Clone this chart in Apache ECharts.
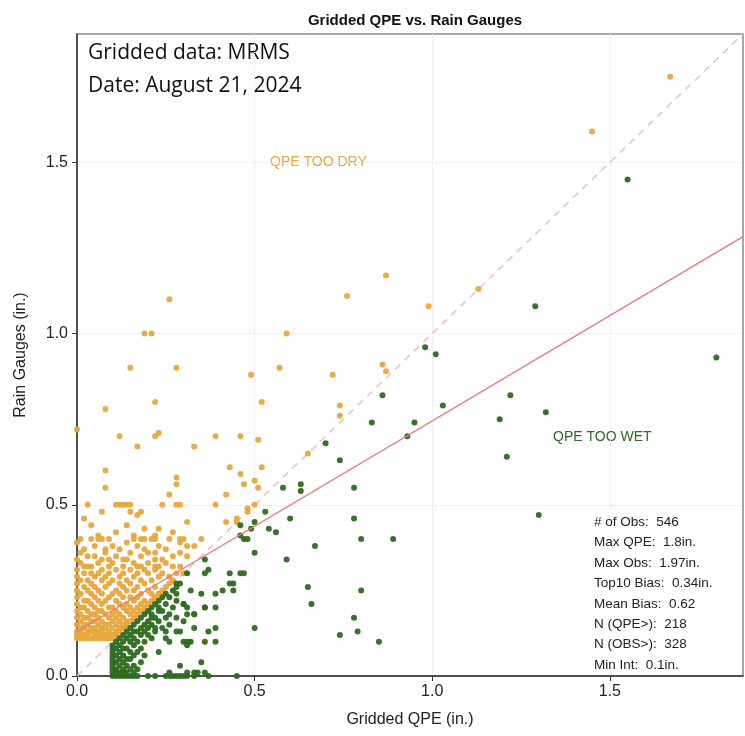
<!DOCTYPE html>
<html><head><meta charset="utf-8">
<script src="https://cdn.jsdelivr.net/npm/echarts@6/dist/echarts.min.js"></script>
<style>html,body{margin:0;padding:0;background:#fff}#c{width:745px;height:736px}</style>
</head><body><div id="c"></div>
<script>
// ---- data ----
const axisMax = 1.875;
const tickLabels = ['0.0','0.5','1.0','1.5'];
const fitCoef = [0.13, 0.615]; // intercept, slope of red fit line
// QPE TOO DRY (orange): rows of [gauge value, [QPE values...]]
const dryRows = [
 [0.11,[0.00,0.01,0.02,0.03,0.04,0.05,0.06,0.07,0.08,0.09,0.10]],
 [0.12,[0.00,0.01,0.02,0.03,0.05,0.06,0.07,0.08,0.09,0.10,0.11]],
 [0.13,[0.00,0.01,0.03,0.04,0.05,0.06,0.07,0.09,0.11,0.12]],
 [0.14,[0.01,0.02,0.04,0.05,0.07,0.08,0.10,0.12,0.13]],
 [0.15,[0.00,0.02,0.03,0.06,0.08,0.09,0.11,0.13,0.14]],
 [0.16,[0.01,0.04,0.05,0.07,0.10,0.12,0.14,0.15]],
 [0.17,[0.00,0.02,0.03,0.06,0.09,0.11,0.13,0.16]],
 [0.18,[0.01,0.04,0.05,0.08,0.10,0.12,0.15,0.17]],
 [0.19,[0.00,0.03,0.06,0.07,0.11,0.14,0.16,0.18]],
 [0.20,[0.01,0.02,0.05,0.09,0.10,0.13,0.15,0.17,0.19]],
 [0.21,[0.00,0.04,0.07,0.12,0.14,0.18,0.20]],
 [0.22,[0.02,0.03,0.06,0.08,0.11,0.16,0.19,0.21]],
 [0.23,[0.00,0.05,0.09,0.13,0.15,0.17,0.22]],
 [0.24,[0.01,0.04,0.07,0.10,0.12,0.18,0.21,0.23]],
 [0.25,[0.00,0.03,0.06,0.11,0.14,0.16,0.20,0.24]],
 [0.26,[0.02,0.05,0.08,0.13,0.17,0.22,0.25]],
 [0.27,[0.00,0.04,0.09,0.12,0.15,0.19,0.26]],
 [0.28,[0.01,0.03,0.07,0.10,0.14,0.18,0.21,0.27]],
 [0.29,[0.00,0.05,0.08,0.12,0.16,0.23,0.26]],
 [0.30,[0.02,0.04,0.06,0.09,0.13,0.17,0.20,0.24,0.28,0.30]],
 [0.31,[0.00,0.07,0.11,0.15,0.19,0.22]],
 [0.32,[0.02,0.03,0.04,0.09,0.13,0.17,0.18,0.22,0.23,0.27,0.29]],
 [0.33,[0.01,0.06,0.10,0.16,0.20,0.25]],
 [0.34,[0.00,0.07,0.09,0.13,0.14,0.22,0.24]],
 [0.35,[0.03,0.05,0.11,0.18,0.27,0.31]],
 [0.36,[0.01,0.08,0.15,0.20,0.22,0.29]],
 [0.37,[0.02,0.08,0.12,0.19,0.25]],
 [0.38,[0.05,0.10,0.17,0.23,0.31,0.33]],
 [0.39,[0.00,0.14,0.29]],
 [0.40,[0.01,0.04,0.06,0.07,0.09,0.16,0.18,0.19,0.21,0.22,0.26,0.29,0.30,0.35]],
 [0.41,[0.06,0.16,0.22]],
 [0.42,[0.11,0.27]],
 [0.43,[0.19,0.23]],
 [0.44,[0.04,0.14]],
 [0.45,[0.31,0.42,0.45]],
 [0.46,[0.02,0.45]],
 [0.47,[0.17]],
 [0.48,[0.07,0.15,0.18,0.48]],
 [0.49,[0.48]],
 [0.50,[0.03,0.11,0.12,0.13,0.14,0.15,0.24,0.28,0.29,0.39,0.50]]
];
const dryScatter = [
 [1.67,1.75],[1.45,1.59],[1.13,1.13],[0.87,1.17],[0.76,1.11],[0.99,1.08],[0.26,1.10],
 [0.59,1.00],[0.19,1.00],[0.21,1.00],[0.15,0.90],[0.28,0.90],[0.57,0.90],[0.49,0.88],
 [0.72,0.88],[0.86,0.91],[0.87,0.89],[0.08,0.78],[0.22,0.80],[0.52,0.80],[0.74,0.79],
 [0.74,0.76],[0.00,0.72],[0.12,0.70],[0.22,0.70],[0.23,0.71],[0.39,0.70],[0.46,0.70],
 [0.51,0.69],[0.17,0.67],[0.33,0.67],[0.65,0.65],[0.08,0.60],[0.43,0.61],[0.52,0.61],
 [0.28,0.58],[0.28,0.56],[0.46,0.59],[0.47,0.56],[0.50,0.57],[0.51,0.55],[0.08,0.55],
 [0.26,0.53],[0.42,0.53]
];
// QPE TOO WET (green): rows of [gauge value, [QPE values...]]
const wetRows = [
 [0.00,[0.10,0.11,0.12,0.13,0.14,0.15,0.16,0.17,0.20,0.22,0.25,0.26,0.27,0.28,0.33]],
 [0.01,[0.10,0.11,0.12,0.13,0.14,0.16,0.26,0.31,0.34]],
 [0.02,[0.10,0.11,0.13,0.15,0.17]],
 [0.03,[0.10,0.12,0.14,0.16]],
 [0.04,[0.10,0.11,0.13,0.18]],
 [0.05,[0.10,0.12,0.14,0.15]],
 [0.06,[0.10,0.11,0.13,0.16,0.19]],
 [0.07,[0.10,0.12,0.15,0.17,0.23]],
 [0.08,[0.10,0.11,0.13,0.14,0.18]],
 [0.09,[0.10,0.12,0.16]],
 [0.10,[0.11,0.13,0.15,0.17,0.19,0.26,0.31,0.36]],
 [0.11,[0.12,0.14,0.16,0.21,0.25]],
 [0.12,[0.13,0.15,0.18,0.20]],
 [0.13,[0.14,0.16,0.17,0.19,0.22,0.25,0.28]],
 [0.14,[0.15,0.18,0.20,0.22,0.24,0.39]],
 [0.15,[0.16,0.19,0.21,0.26]],
 [0.16,[0.17,0.20,0.23]],
 [0.17,[0.18,0.21,0.22,0.25,0.28]],
 [0.18,[0.19,0.21,0.26,0.33]],
 [0.19,[0.20,0.23,0.24]],
 [0.20,[0.21,0.23,0.27,0.36]],
 [0.21,[0.22,0.25,0.30]],
 [0.22,[0.23,0.28]],
 [0.23,[0.24,0.26]],
 [0.24,[0.25,0.28]],
 [0.25,[0.27]],
 [0.26,[0.28]],
 [0.27,[0.28]]
];
const wetScatter = [
 [1.80,0.93],[1.55,1.45],[1.29,1.08],[0.98,0.96],[1.01,0.94],[1.03,0.79],[1.22,0.82],
 [1.19,0.75],[1.32,0.77],[1.21,0.64],[1.30,0.47],[0.86,0.82],[0.83,0.74],[0.95,0.74],
 [0.93,0.70],[0.70,0.68],[0.74,0.63],[0.58,0.55],[0.63,0.56],[0.63,0.54],[0.78,0.55],
 [0.53,0.48],[0.60,0.46],[0.78,0.46],[0.50,0.45],[0.54,0.43],[0.56,0.42],[0.49,0.43],
 [0.46,0.41],[0.47,0.40],[0.48,0.40],[0.80,0.40],[0.89,0.40],[0.67,0.38],[0.50,0.36],
 [0.59,0.34],[0.46,0.30],[0.47,0.30],[0.65,0.26],[0.80,0.25],[0.66,0.21],[0.78,0.17],
 [0.50,0.14],[0.74,0.12],[0.79,0.13],[0.85,0.10],[0.46,0.44],[0.36,0.34],[0.37,0.31],
 [0.36,0.30],[0.31,0.30],[0.43,0.30],[0.43,0.27],[0.44,0.27],[0.41,0.25],[0.44,0.25],
 [0.39,0.24],[0.32,0.25],[0.35,0.24],[0.29,0.27],[0.30,0.21],[0.31,0.20],[0.36,0.20],
 [0.39,0.20],[0.31,0.18],[0.33,0.18],[0.30,0.16],[0.33,0.14],[0.29,0.13],[0.37,0.13],
 [0.30,0.10],[0.31,0.09],[0.32,0.10],[0.39,0.10],[0.29,0.03],[0.35,0.04],[0.33,0.01],
 [0.36,0.01],[0.37,0.00],[0.29,0.00],[0.30,0.00],[0.31,0.00],[0.45,0.00]
];
const statLines = ['# of Obs:  546','Max QPE:  1.8in.','Max Obs:  1.97in.','Top10 Bias:  0.34in.',
 'Mean Bias:  0.62','N (QPE>):  218','N (OBS>):  328','Min Int:  0.1in.'];
const infoLines = ['Gridded data: MRMS','Date: August 21, 2024'];

// ---- build ----
function fromRows(rows){const out=[];rows.forEach(r=>r[1].forEach(x=>out.push([x,r[0]])));return out;}
const dryData = fromRows(dryRows).concat(dryScatter);
const wetData = fromRows(wetRows).concat(wetScatter);
const ORANGE = '#e7a73d', GREEN = '#2e6b20';
const FONT = 'Liberation Sans, Arial, sans-serif';

const chart = echarts.init(document.getElementById('c'), null, {renderer:'canvas'});
const axisCommon = {
  type:'value', min:0, max:axisMax, interval:0.5,
  axisLine:{show:true, onZero:false, lineStyle:{color:'#333', width:1.5}},
  axisTick:{show:true, inside:false, length:5, lineStyle:{color:'#333'}},
  splitLine:{show:true, showMinLine:false, showMaxLine:false, lineStyle:{color:'#e4e4e4', type:'dotted', width:1}},
  axisLabel:{fontFamily:FONT, fontSize:16, color:'#222', showMaxLabel:false,
    formatter:v=>{const i=Math.round(v/0.5);return Math.abs(v-i*0.5)<1e-6 && tickLabels[i]?tickLabels[i]:'';}},
  nameLocation:'middle', nameTextStyle:{fontFamily:FONT, fontSize:16, color:'#222'}
};
chart.setOption({
  animation:false,
  title:{text:'Gridded QPE vs. Rain Gauges', left:410, top:8, textAlign:'center',
    textStyle:{fontFamily:FONT, fontSize:15, fontWeight:'bold', color:'#111'}},
  grid:{left:77, right:2, top:34, bottom:60, show:true, borderColor:'#8a8a8a', borderWidth:1.5, backgroundColor:'#fff'},
  xAxis:Object.assign({}, axisCommon, {name:'Gridded QPE (in.)', nameGap:36,
    axisLabel:Object.assign({}, axisCommon.axisLabel, {margin:8})}),
  yAxis:Object.assign({}, axisCommon, {name:'Rain Gauges (in.)', nameGap:48,
    axisLabel:Object.assign({}, axisCommon.axisLabel, {margin:9})}),
  series:[
    {type:'line', data:[[0,0],[axisMax,axisMax]], symbol:'none', silent:true, z:1,
      lineStyle:{color:'#f3b9c7', width:1.5, type:[7,6]}},
    {type:'scatter', data:dryData, symbolSize:6, itemStyle:{color:ORANGE, opacity:0.95}, z:2},
    {type:'scatter', data:wetData, symbolSize:6, itemStyle:{color:GREEN, opacity:0.95}, z:3},
    {type:'line', data:[[0,fitCoef[0]],[axisMax,fitCoef[0]+fitCoef[1]*axisMax]], symbol:'none', silent:true, z:4,
      lineStyle:{color:'#e8787a', width:1.3}}
  ],
  graphic:[
    {type:'text', left:88, top:37, style:{text:infoLines.join('\n'), fontFamily:'Open Sans, sans-serif', fontSize:21, lineHeight:33, fill:'#111'}},
    {type:'text', left:270, top:155, style:{text:'QPE TOO DRY', fontFamily:FONT, fontSize:14, fill:ORANGE}},
    {type:'text', left:553, top:430, style:{text:'QPE TOO WET', fontFamily:FONT, fontSize:14, fill:GREEN}},
    {type:'rect', left:588, top:510, shape:{width:150, height:160}, style:{fill:'#fff'}, z:50},
    {type:'text', left:594, top:512, z:51, style:{text:statLines.join('\n'), fontFamily:FONT, fontSize:13.5, lineHeight:20.4, fill:'#222'}}
  ]
});
</script></body></html>
